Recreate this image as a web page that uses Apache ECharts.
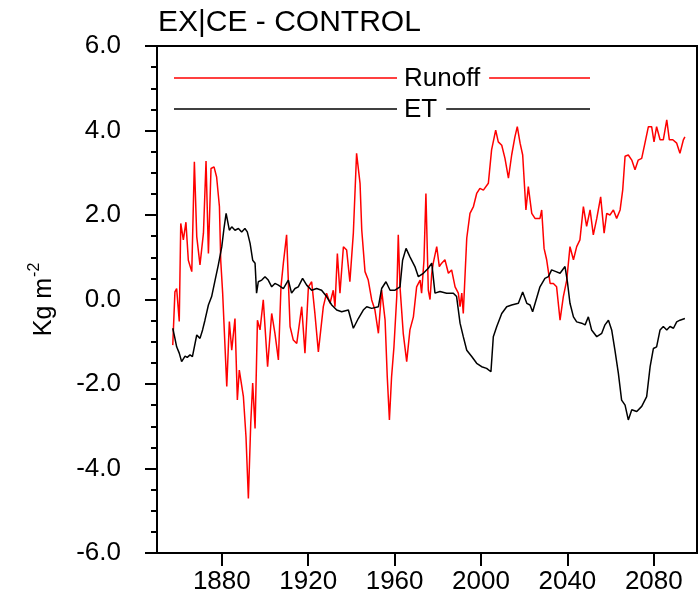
<!DOCTYPE html>
<html>
<head>
<meta charset="utf-8">
<script src="https://cdn.jsdelivr.net/npm/echarts@6/dist/echarts.min.js"></script>
<style>
  html, body { margin: 0; padding: 0; background: #fff; }
  #chart { width: 700px; height: 610px; }
</style>
</head>
<body>
<div id="chart"></div>
<script>
// Runoff anomaly (EXICE - CONTROL), Kg m^-2
const runoffYears = [
  1857.3, 1858.3, 1859.1, 1860.3, 1861.0, 1862.2, 1863.4, 1864.5, 1866.1, 1867.3,
  1868.4, 1869.9, 1871.5, 1872.7, 1873.8, 1875.0, 1876.4, 1877.6, 1878.9, 1879.5,
  1880.4, 1882.3, 1883.5, 1884.6, 1886.1, 1887.2, 1888.1, 1890.0, 1891.2, 1892.3,
  1893.4, 1894.3, 1895.4, 1896.5, 1897.7, 1899.2, 1901.2, 1903.1, 1904.6, 1906.2,
  1907.4, 1908.5, 1910.0, 1911.6, 1913.1, 1914.7, 1917.0, 1918.5, 1920.1, 1921.6,
  1923.1, 1924.7, 1927.0, 1928.5, 1930.1, 1931.6, 1932.4, 1933.5, 1934.7, 1936.3,
  1937.8, 1939.3, 1940.9, 1942.4, 1944.0, 1944.8, 1946.3, 1947.8, 1949.4, 1950.9,
  1952.5, 1954.0, 1955.6, 1956.6, 1957.6, 1958.6, 1959.7, 1961.0, 1961.7, 1962.5,
  1964.0, 1965.6, 1967.1, 1968.7, 1970.2, 1971.8, 1972.5, 1973.6, 1974.5, 1975.6,
  1976.4, 1977.2, 1977.9, 1979.5, 1980.7, 1981.8, 1983.3, 1984.9, 1986.4, 1988.0,
  1989.5, 1990.3, 1991.1, 1991.8, 1993.4, 1994.9, 1996.5, 1998.0, 1999.5, 2001.1,
  2003.4, 2004.9, 2006.8, 2008.0, 2009.6, 2011.1, 2012.7, 2014.2, 2015.7, 2016.8,
  2018.1, 2019.3, 2020.8, 2021.9, 2023.5, 2025.0, 2027.3, 2028.1, 2029.2, 2030.4,
  2032.0, 2033.5, 2035.0, 2036.6, 2038.1, 2039.7, 2041.2, 2042.8, 2044.3, 2045.8,
  2047.4, 2048.9, 2050.5, 2052.0, 2053.6, 2055.4, 2057.0, 2058.2, 2059.7, 2061.3,
  2062.8, 2064.4, 2065.6, 2066.7, 2068.2, 2069.8, 2071.3, 2072.8, 2074.4, 2075.9,
  2077.5, 2079.0, 2080.1, 2081.3, 2082.9, 2084.4, 2086.0, 2087.2, 2088.8, 2090.6,
  2092.1, 2093.7, 2094.4
];
const runoffValues = [
  -1.08, 0.18, 0.26, -0.52, 1.80, 1.41, 1.83, 0.93, 0.66, 3.26,
  1.49, 0.82, 1.57, 3.28, 1.09, 3.10, 3.14, 2.90, 2.20, 0.93,
  0.15, -2.06, -0.52, -1.20, -0.45, -2.38, -1.67, -2.30, -3.25, -4.71,
  -2.93, -1.98, -3.05, -0.49, -0.72, -0.01, -1.59, -0.33, -0.80, -1.43,
  0.30, 0.86, 1.53, -0.64, -0.96, -1.04, -0.17, -1.27, 0.30, 0.42,
  -0.33, -1.24, -0.17, 0.15, -0.09, 0.22, -0.17, 1.09, 0.15, 1.25,
  1.17, 0.42, 1.57, 3.46, 2.75, 1.64, 0.66, 0.46, -0.01, -0.25,
  -0.80, 0.22, -0.49, -1.83, -2.85, -1.83, -1.12, 0.07, 1.53, 0.30,
  -0.80, -1.47, -0.72, -0.41, 0.30, 0.46, 0.15, 0.93, 2.51, 0.22,
  0.00, 0.62, 0.86, 1.25, 0.78, 0.86, 0.94, 0.62, 0.70, 0.30,
  0.15, -0.17, 0.15, -0.33, 1.45, 2.04, 2.20, 2.51, 2.63, 2.59,
  2.75, 3.54, 4.01, 3.73, 3.65, 3.34, 2.87, 3.42, 3.85, 4.09,
  3.70, 3.42, 2.12, 2.67, 2.04, 1.92, 1.92, 2.12, 1.21, 0.94,
  0.38, 0.38, 0.30, -0.49, 0.06, 0.46, 1.25, 0.94, 1.25, 1.41,
  2.20, 1.73, 2.12, 1.53, 1.92, 2.43, 1.57, 2.04, 2.00, 2.12,
  1.92, 2.12, 2.59, 3.39, 3.42, 3.30, 3.07, 3.30, 3.34, 3.70,
  4.09, 4.09, 3.73, 4.09, 3.78, 3.78, 4.25, 3.78, 3.78, 3.70,
  3.46, 3.78, 3.85
];

// Evapotranspiration anomaly (EXICE - CONTROL), Kg m^-2
const etYears = [
  1857.3, 1858.3, 1859.1, 1860.3, 1861.4, 1863.0, 1864.0, 1865.3, 1866.4, 1867.3,
  1868.4, 1869.9, 1871.1, 1872.2, 1873.8, 1875.3, 1876.9, 1878.4, 1880.0, 1881.0,
  1882.0, 1882.6, 1883.5, 1884.6, 1886.1, 1887.7, 1889.2, 1890.7, 1891.8, 1893.1,
  1894.3, 1895.4, 1896.1, 1896.9, 1898.5, 1900.0, 1901.5, 1903.1, 1904.6, 1906.2,
  1908.5, 1910.8, 1912.3, 1913.9, 1915.4, 1917.4, 1919.3, 1921.6, 1923.9, 1926.2,
  1928.5, 1930.9, 1933.2, 1935.5, 1938.6, 1940.9, 1943.2, 1945.5, 1947.1, 1949.4,
  1952.5, 1954.0, 1956.0, 1957.9, 1960.2, 1962.5, 1963.7, 1965.3, 1967.1, 1969.4,
  1971.0, 1973.3, 1975.6, 1977.2, 1978.7, 1981.0, 1984.1, 1987.2, 1988.7, 1990.3,
  1991.8, 1993.4, 1995.7, 1998.0, 2000.3, 2002.6, 2004.6, 2005.7, 2007.3, 2009.6,
  2011.9, 2014.2, 2017.3, 2019.3, 2021.2, 2022.7, 2023.9, 2025.5, 2027.3, 2029.6,
  2031.2, 2032.7, 2034.7, 2036.6, 2038.9, 2040.0, 2041.2, 2042.8, 2044.3, 2046.6,
  2048.2, 2049.7, 2051.2, 2053.6, 2055.9, 2057.4, 2059.0, 2060.5, 2062.0, 2063.6,
  2065.1, 2066.7, 2068.2, 2069.8, 2072.1, 2074.4, 2076.7, 2078.3, 2079.8, 2081.3,
  2082.9, 2084.4, 2086.0, 2087.5, 2089.1, 2090.6, 2092.1, 2094.4
];
const etValues = [
  -0.68, -0.92, -1.12, -1.27, -1.47, -1.34, -1.37, -1.31, -1.35, -1.35,
  -0.84, -0.92, -0.72, -0.49, -0.13, 0.07, 0.46, 0.82, 1.25, 1.68,
  2.04, 2.00, 1.64, 1.72, 1.64, 1.68, 1.60, 1.68, 1.60, 1.33,
  0.93, 0.86, 0.15, 0.42, 0.46, 0.54, 0.46, 0.30, 0.38, 0.34,
  0.26, 0.46, 0.15, 0.26, 0.30, 0.50, 0.34, 0.22, 0.26, 0.22,
  0.07, -0.13, -0.25, -0.29, -0.25, -0.68, -0.45, -0.25, -0.17, -0.21,
  -0.17, 0.26, 0.42, 0.22, 0.22, 0.30, 0.93, 1.21, 1.01, 0.78,
  0.54, 0.62, 0.74, 0.86, 0.15, 0.19, 0.15, 0.15, 0.07, -0.56,
  -0.88, -1.20, -1.35, -1.51, -1.59, -1.63, -1.71, -0.88, -0.64, -0.33,
  -0.17, -0.13, -0.09, 0.18, -0.09, -0.13, -0.29, -0.01, 0.30, 0.50,
  0.54, 0.70, 0.66, 0.62, 0.78, 0.42, -0.09, -0.41, -0.53, -0.56,
  -0.60, -0.41, -0.72, -0.88, -0.80, -0.60, -0.49, -0.72, -1.20, -1.75,
  -2.38, -2.50, -2.85, -2.61, -2.65, -2.53, -2.30, -1.59, -1.16, -1.12,
  -0.72, -0.64, -0.72, -0.64, -0.68, -0.53, -0.49, -0.45
];

const xTickYears = [1880, 1920, 1960, 2000, 2040, 2080];
const seriesNames = ['Runoff', 'ET'];
const seriesColors = ['#ff0000', '#000000'];
const titleText = 'EX|CE - CONTROL';

const pair = (xs, ys) => xs.map((x, i) => [x, ys[i]]);
const FONT = '"Liberation Sans", Arial, Helvetica, sans-serif';
const LEGEND_FONT = '26px ' + FONT;

const chart = echarts.init(document.getElementById('chart'), null, { renderer: 'canvas' });

// Legend drawn in the plot area: line — label — line
function legendRow(name, color, y) {
  const x0 = 174, x1 = 397, tx = 404, x3 = 590;
  const w = echarts.format.getTextRect
    ? echarts.format.getTextRect(name, LEGEND_FONT).width
    : name.length * 14;
  return [
    { type: 'line', shape: { x1: x0, y1: y, x2: x1, y2: y }, style: { stroke: color, lineWidth: 1.5 } },
    { type: 'text', x: tx, y: y + 1, style: { text: name, font: LEGEND_FONT, fill: '#000', verticalAlign: 'middle' } },
    { type: 'line', shape: { x1: tx + w + 9, y1: y, x2: x3, y2: y }, style: { stroke: color, lineWidth: 1.5 } }
  ];
}

chart.setOption({
  animation: false,
  backgroundColor: '#ffffff',
  title: {
    text: titleText,
    left: 153,
    top: 3,
    textStyle: { fontFamily: FONT, fontSize: 30, fontWeight: 'normal', color: '#000' }
  },
  grid: {
    left: 157, right: 3, top: 46, bottom: 57,
    show: true, borderColor: '#000', borderWidth: 2, backgroundColor: 'transparent'
  },
  xAxis: {
    type: 'value',
    min: 1850, max: 2100,
    axisLine: { show: true, onZero: false, lineStyle: { color: '#000', width: 2 } },
    axisTick: { show: true, inside: false, length: 13, lineStyle: { color: '#000', width: 2 }, customValues: xTickYears },
    axisLabel: { customValues: xTickYears, margin: 16, fontFamily: FONT, fontSize: 26, color: '#000', formatter: v => String(v) },
    splitLine: { show: false }
  },
  yAxis: {
    type: 'value',
    min: -6, max: 6, interval: 2,
    name: '{n|Kg m}{s|-2}',
    nameLocation: 'middle',
    nameGap: 100,
    nameRotate: 90,
    nameTextStyle: {
      rich: {
        n: { fontFamily: FONT, fontSize: 25, color: '#000', verticalAlign: 'bottom', lineHeight: 30 },
        s: { fontFamily: FONT, fontSize: 16, color: '#000', verticalAlign: 'top', lineHeight: 30, padding: [0, 0, 12, 1] }
      }
    },
    axisLine: { show: true, onZero: false, lineStyle: { color: '#000', width: 2 } },
    axisTick: { show: true, inside: false, length: 12, lineStyle: { color: '#000', width: 2 } },
    minorTick: { show: true, splitNumber: 4, length: 6, lineStyle: { color: '#000', width: 2 } },
    axisLabel: { margin: 36, fontFamily: FONT, fontSize: 26, color: '#000', formatter: v => v.toFixed(1) },
    splitLine: { show: false },
    minorSplitLine: { show: false }
  },
  graphic: [
    ...legendRow(seriesNames[0], seriesColors[0], 78),
    ...legendRow(seriesNames[1], seriesColors[1], 109)
  ],
  series: [
    {
      name: seriesNames[0], type: 'line', data: pair(runoffYears, runoffValues),
      showSymbol: false, symbol: 'none', smooth: false,
      lineStyle: { color: seriesColors[0], width: 1.5 }, z: 2
    },
    {
      name: seriesNames[1], type: 'line', data: pair(etYears, etValues),
      showSymbol: false, symbol: 'none', smooth: false,
      lineStyle: { color: seriesColors[1], width: 1.5 }, z: 3
    }
  ]
});
</script>
</body>
</html>
